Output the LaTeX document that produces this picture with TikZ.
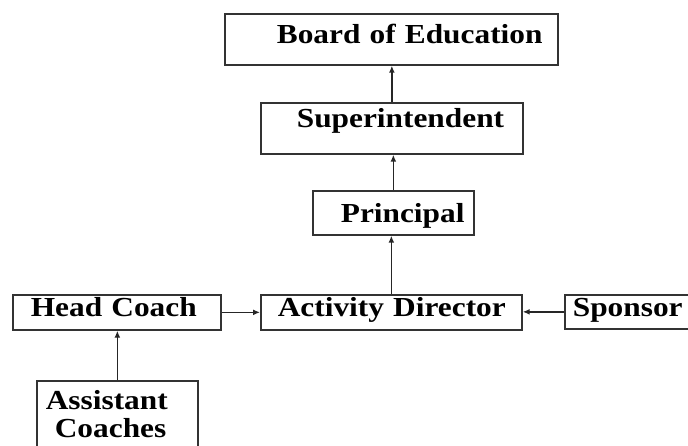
\documentclass[tikz,border=0pt]{standalone}
\usepackage{fontspec}
\setmainfont{Liberation Serif}[FakeStretch=1.14]
\usepackage{tikz}
\usetikzlibrary{arrows.meta}

\begin{document}
\begin{tikzpicture}[x=1pt,y=-1pt]
            \useasboundingbox (0,0) rectangle (688,446);
            \begin{scope}[every node/.style={draw=black!80,line width=1.7pt,anchor=north west,inner sep=0pt,align=left,
                    font=\fontsize{27.5}{28}\selectfont\bfseries}]
                \node[text width=333pt,text height=30pt,text depth=21pt] (board) at (224,13) {\hspace*{52pt}Board of Education};
                \node[text width=262pt,text height=25pt,text depth=26pt] (super) at (260,102) {\hspace*{36pt}Superintendent};
                \node[text width=161pt,text height=32pt,text depth=12pt] (principal) at (312,190) {\hspace*{28pt}Principal};

                \node[text width=208pt,text height=22pt,text depth=13pt] (headcoach) at (12,294) {\hspace*{18pt}Head Coach};
                \node[text width=261pt,text height=22pt,text depth=13pt] (actdir) at (260,294) {\hspace*{17pt}Activity Director};
                \node[text width=130pt,text height=22pt,text depth=12pt] (sponsor) at (564,294) {\hspace*{8pt}Sponsor};

                \node[text width=161pt,text height=29pt,text depth=43pt] (assist) at (36,380) {\hspace*{9pt}Assistant\\\hspace*{18pt}Coaches};
            \end{scope}
            \begin{scope}[every edge/.style={draw=black!85,line width=1.5pt,-{Latex[length=7pt,width=6pt]}}]
                \path (super.north) edge (super.north |- board.south);
                \path (principal.north) edge (principal.north |- super.south);
                \path (actdir.north) edge (actdir.north |- principal.south);

                \path (headcoach.east) edge (headcoach.east -| actdir.west);
                \path (sponsor.west) edge (sponsor.west -| actdir.east);
                \path (assist.north) edge (assist.north |- headcoach.south);
            \end{scope}
        \end{tikzpicture}
\end{document}
